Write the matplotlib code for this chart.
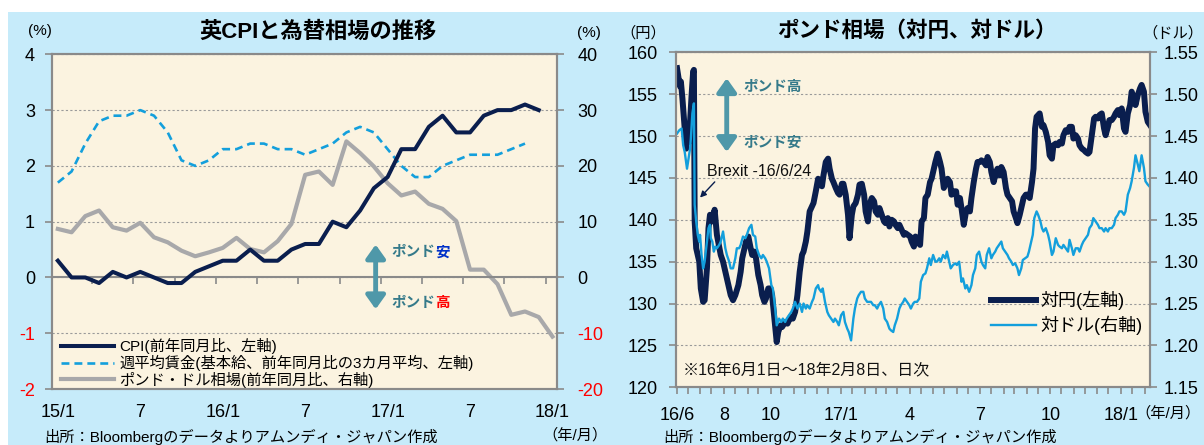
import numpy as np
import pandas as pd
import matplotlib
matplotlib.use("Agg")
import matplotlib.pyplot as plt
import matplotlib.dates as mdates
from matplotlib.patches import Rectangle

plt.rcParams['font.family'] = ['Liberation Sans', 'Noto Sans CJK JP']
plt.rcParams['axes.unicode_minus'] = False

BG = '#C6EBFA'
PLOT_BG = '#FBF3E0'
NAVY = '#0A1E4E'
SKY = '#139FDC'
GREY = '#A8A8AA'
TEAL = '#4F98A9'
TEAL_TXT = '#357A8A'
AXIS = '#8A8A8A'
GRID = '#9A9A9A'

# ---- left chart: monthly 15/1 .. 18/1 ----
cpi = [0.3, 0.0, 0.0, -0.1, 0.1, 0.0, 0.1, 0.0, -0.1, -0.1, 0.1, 0.2,
       0.3, 0.3, 0.5, 0.3, 0.3, 0.5, 0.6, 0.6, 1.0, 0.9, 1.2, 1.6,
       1.8, 2.3, 2.3, 2.7, 2.9, 2.6, 2.6, 2.9, 3.0, 3.0, 3.1, 3.0]
wage = [1.7, 1.9, 2.4, 2.8, 2.9, 2.9, 3.0, 2.9, 2.6, 2.1,
        2.0, 2.1, 2.3, 2.3, 2.4, 2.4, 2.3, 2.3, 2.2, 2.3,
        2.4, 2.6, 2.7, 2.6, 2.3, 2.0, 1.8, 1.8, 2.0, 2.1,
        2.2, 2.2, 2.2, 2.3, 2.4]
gbpusd_yoy = [8.7, 8.1, 11.0, 12.0, 9.0, 8.4, 9.8, 7.2, 6.3, 4.8,
              3.8, 4.5, 5.3, 7.1, 5.1, 4.5, 6.5, 9.6, 18.4, 19.0,
              16.6, 24.4, 22.3, 19.9, 16.9, 14.7, 15.4, 13.2, 12.3, 10.1,
              1.4, 1.4, -1.2, -6.7, -6.1, -7.1, -10.6]
month_labels = ['15/1', '7', '16/1', '7', '17/1', '7', '18/1']
left_yticks = [-2, -1, 0, 1, 2, 3, 4]
right_yticks = [-20, -10, 0, 10, 20, 30, 40]

# ---- right chart: daily, days since 2016-06-01 ----
START = pd.Timestamp('2016-06-01')
yen_days = [0, 2, 4, 5, 7, 9, 10, 12, 14, 16, 17, 19, 21, 22,
            23, 25, 29, 31, 34, 36, 39, 41, 43, 46,
            49, 50, 52, 55, 57, 60, 63, 67, 70, 73,
            76, 80, 83, 85, 88, 90, 93, 96, 98, 101,
            103, 106, 109, 111, 114, 116, 119, 122, 124, 127,
            130, 132, 135, 137, 141, 144, 148, 151, 154,
            157, 160, 163, 165, 168, 170, 173, 176, 178, 181,
            184, 186, 189, 191, 194, 197, 199, 202, 204, 207,
            210, 212, 215, 217, 220, 223, 225, 228, 230, 233,
            236, 238, 241, 244, 246, 249, 251, 254, 257, 259,
            262, 264, 267, 270, 272, 275, 277, 280, 283, 285,
            288, 290, 293, 296, 298, 301, 304, 306, 309,
            311, 314, 317, 319, 322, 324, 327, 330, 332, 335,
            337, 340, 343, 345, 348, 350, 353, 356, 358, 361,
            364, 366, 369, 371, 374, 377, 379, 382, 384, 387,
            390, 392, 395, 397, 400, 403, 405, 408, 410, 413,
            416, 418, 421, 423, 426, 429, 431, 434, 437, 439,
            442, 444, 447, 450, 452, 455, 457, 460, 463, 465,
            467, 469, 473, 476, 478, 481, 484, 486, 489, 491,
            494, 497, 499, 502, 504, 507, 510, 512, 515, 517,
            520, 523, 525, 528, 531, 533, 536, 538, 541, 544,
            546, 549, 551, 554, 557, 559, 562, 564, 567, 570,
            572, 575, 577, 580, 583, 585, 588, 591, 593, 596,
            598, 601, 604, 606, 609, 611, 614, 617]
yen = [158.1, 156.9, 155.9, 156.5, 154.5, 152.1, 150.9, 148.5, 151.1, 149.3, 151.7, 154.9, 157.7, 157.9,
       139.8, 136.6, 135.0, 131.8, 130.2, 130.4, 134.2, 139.0, 140.6, 139.8,
       141.2, 140.2, 138.2, 136.8, 135.8, 135.0, 133.8, 132.2, 131.0, 130.4,
       131.0, 132.2, 133.8, 135.4, 136.6, 137.4, 138.0, 136.6, 135.8, 136.2,
       135.4, 133.4, 132.2, 131.0, 130.2, 130.6, 131.8, 131.8, 131.0, 128.2,
       125.4, 126.6, 127.4, 127.2, 127.8, 127.6, 128.4, 128.2, 129.0,
       131.0, 133.8, 135.8, 136.2, 137.4, 138.6, 141.0, 141.6, 142.0, 143.4,
       144.9, 144.3, 144.0, 145.3, 146.9, 147.3, 146.1, 144.9, 144.5, 143.8,
       143.2, 143.0, 144.3, 144.3, 143.0, 140.6, 137.8, 140.6, 141.6, 142.0,
       143.0, 144.2, 144.3, 143.0, 141.0, 139.8, 141.8, 142.6, 142.2, 141.0,
       140.6, 141.4, 140.6, 139.8, 139.6, 140.2, 139.2, 140.0, 139.8, 139.4,
       139.0, 139.4, 138.8, 138.2, 138.4, 138.2, 138.0, 137.4, 136.8,
       138.0, 137.4, 137.0, 139.8, 140.2, 142.6, 143.0, 144.5, 144.9, 146.1,
       146.9, 147.9, 146.9, 146.1, 143.8, 144.2, 144.9, 144.5, 143.0, 143.4,
       143.4, 141.8, 142.6, 141.4, 139.4, 141.0, 141.4, 141.0, 142.6, 144.5,
       146.1, 146.9, 146.9, 147.1, 146.9, 146.5, 147.5, 146.9, 145.7, 144.5,
       145.7, 146.1, 145.3, 146.3, 145.7, 143.8, 143.0, 142.6, 142.2, 141.0,
       140.2, 139.6, 140.6, 141.8, 142.6, 143.0, 143.0, 142.6, 144.5, 146.1,
       150.9, 152.3, 152.7, 151.1, 151.3, 150.5, 149.3, 147.7, 147.3, 148.9,
       149.1, 148.9, 149.3, 149.1, 150.1, 150.7, 150.5, 151.1, 151.1, 149.7,
       150.1, 149.7, 148.9, 148.5, 148.3, 148.1, 147.9, 148.1, 150.1, 152.1,
       152.3, 152.1, 152.5, 152.7, 150.9, 150.1, 151.1, 151.9, 151.9, 152.3,
       152.7, 153.1, 152.5, 153.3, 150.9, 150.5, 152.7, 153.7, 155.3, 154.5,
       153.7, 154.9, 155.7, 156.1, 155.3, 152.9, 151.7, 151.3]

usd_days = [0, 3, 6, 8, 10, 13, 15, 17, 18, 20,
            22, 23, 25, 27, 29, 30, 32, 34, 36, 37,
            39, 41, 43, 44, 46, 48, 50, 52, 55, 57,
            60, 63, 65, 68, 70, 73, 76, 78, 81, 83,
            86, 89, 91, 94, 97, 99, 102, 104, 107, 110,
            112, 115, 117, 120, 123, 125, 128, 130, 133, 136,
            138, 141, 143, 146, 149, 151, 154,
            157, 160, 163, 165, 168, 170, 173, 176, 178, 181,
            184, 185, 188, 190, 193, 196, 198, 201, 204, 206,
            209, 211, 214, 217, 219, 222, 224, 227, 230, 232,
            235, 237, 240, 243, 245, 248, 250, 253, 256, 258,
            261, 263, 266, 269, 271, 274, 277, 279, 282, 284,
            287, 290, 292, 295, 297, 300, 303, 305, 308, 310,
            313, 316, 318, 321, 324, 326, 329, 331, 334, 337,
            339, 342, 344, 347, 350, 352, 355, 357, 360, 363,
            365, 368, 371, 373, 376, 378, 381, 384, 386, 389,
            391, 394, 397, 399, 402, 404, 407, 410, 412, 415,
            417, 420, 423, 425, 428, 431, 433, 436, 438, 441,
            444, 446, 449, 451, 454, 457, 459, 462, 464, 466,
            469, 471, 474, 476, 478, 481, 484, 486, 489, 491,
            494, 497, 499, 502, 504, 507, 510, 512, 515, 517,
            520, 523, 525, 528, 530, 533, 536, 538, 541, 543,
            546, 549, 551, 554, 557, 559, 562, 564, 567, 570,
            572, 575, 577, 580, 583, 585, 588, 591, 593, 596,
            598, 601, 603, 606, 609, 611, 614, 617]
usd = [1.453, 1.457, 1.459, 1.439, 1.431, 1.411, 1.423, 1.435, 1.447, 1.477,
       1.489, 1.368, 1.348, 1.332, 1.324, 1.332, 1.308, 1.292, 1.300, 1.308,
       1.324, 1.340, 1.344, 1.328, 1.324, 1.312, 1.318, 1.316, 1.320, 1.324,
       1.336, 1.316, 1.308, 1.300, 1.292, 1.292, 1.304, 1.316, 1.316, 1.320,
       1.330, 1.328, 1.332, 1.340, 1.344, 1.332, 1.330, 1.316, 1.308, 1.304,
       1.308, 1.304, 1.300, 1.292, 1.272, 1.268, 1.244, 1.224, 1.232, 1.228,
       1.232, 1.228, 1.232, 1.236, 1.240, 1.244, 1.252,
       1.244, 1.250, 1.240, 1.250, 1.244, 1.248, 1.244, 1.252, 1.256, 1.268,
       1.272, 1.268, 1.264, 1.268, 1.252, 1.240, 1.236, 1.232, 1.228, 1.232,
       1.228, 1.224, 1.236, 1.240, 1.228, 1.220, 1.216, 1.206, 1.232, 1.244,
       1.256, 1.260, 1.264, 1.264, 1.256, 1.252, 1.252, 1.252, 1.248, 1.248,
       1.244, 1.248, 1.252, 1.244, 1.232, 1.228, 1.220, 1.218, 1.216, 1.224,
       1.232, 1.244, 1.248, 1.252, 1.256, 1.252, 1.248, 1.244, 1.250, 1.252,
       1.252, 1.256, 1.276, 1.284, 1.286, 1.292, 1.304, 1.296, 1.308, 1.300,
       1.300, 1.304, 1.300, 1.308, 1.304, 1.312, 1.300, 1.292, 1.296, 1.298,
       1.296, 1.300, 1.276, 1.280, 1.268, 1.272, 1.264, 1.272, 1.284, 1.292,
       1.308, 1.312, 1.300, 1.296, 1.292, 1.308, 1.316, 1.304, 1.308, 1.312,
       1.316, 1.320, 1.324, 1.316, 1.312, 1.308, 1.304, 1.300, 1.296, 1.298,
       1.292, 1.284, 1.292, 1.302, 1.304, 1.306, 1.312, 1.324, 1.332, 1.352,
       1.360, 1.356, 1.348, 1.340, 1.336, 1.340, 1.332, 1.324, 1.308, 1.312,
       1.328, 1.320, 1.318, 1.316, 1.320, 1.316, 1.312, 1.326, 1.316, 1.308,
       1.316, 1.316, 1.312, 1.320, 1.324, 1.328, 1.332, 1.340, 1.344, 1.352,
       1.348, 1.344, 1.340, 1.340, 1.336, 1.340, 1.336, 1.340, 1.340, 1.344,
       1.352, 1.356, 1.360, 1.360, 1.356, 1.360, 1.380, 1.388, 1.396, 1.412,
       1.427, 1.416, 1.408, 1.427, 1.412, 1.396, 1.392, 1.389]

date_labels = {'2016-06': '16/6', '2016-08': '8', '2016-10': '10', '2017-01': '17/1',
               '2017-04': '4', '2017-07': '7', '2017-10': '10', '2018-01': '18/1'}
yen_ticks = [120, 125, 130, 135, 140, 145, 150, 155, 160]
usd_ticks = [1.15, 1.20, 1.25, 1.30, 1.35, 1.40, 1.45, 1.50, 1.55]


def style_spines(ax):
    for s in ax.spines.values():
        s.set_color(AXIS)
        s.set_linewidth(1.5)


def day(d):
    return mdates.date2num(START + pd.Timedelta(days=d))


fig = plt.figure(figsize=(12.04, 4.45), dpi=100)
fig.patch.set_facecolor('white')
fig.add_artist(Rectangle((8 / 1204, 0), 1, 433 / 445, transform=fig.transFigure,
                         facecolor=BG, edgecolor='none', zorder=-10))

# ================= left chart =================
axL = fig.add_axes([0.0429, 0.1258, 0.4194, 0.7521])
axL2 = axL.twinx()
axL.set_zorder(axL2.get_zorder() + 1)
axL.patch.set_visible(False)
axL2.patch.set_visible(True)
axL2.patch.set_facecolor(PLOT_BG)

x = np.arange(len(gbpusd_yoy))
h_gbp, = axL2.plot(x, gbpusd_yoy, color=GREY, lw=3.0)
h_wage, = axL.plot(x[:len(wage)], wage, color=SKY, lw=1.9, ls=(0, (3.0, 1.9)))
h_cpi, = axL.plot(x[:len(cpi)], cpi, color=NAVY, lw=2.9)

axL.set_xlim(-0.45, 36.3)
axL.set_ylim(-2, 4)
axL2.set_ylim(-20, 40)
axL.set_xticks(range(0, len(gbpusd_yoy), 6), month_labels)
axL.tick_params(axis='x', length=0, labelsize=13, pad=11)
axL.set_yticks(left_yticks, [str(v) for v in left_yticks])
axL.tick_params(axis='y', direction='out', length=5, width=1.2, color=AXIS,
                labelsize=13, pad=7)
axL2.set_yticks(right_yticks, [str(v) for v in right_yticks])
axL2.tick_params(axis='y', direction='out', length=5, width=1.2, color=AXIS,
                 labelsize=13, pad=10)
for lbl, v in zip(axL.get_yticklabels(), left_yticks):
    if v < 0:
        lbl.set_color('#FF0000')
for lbl, v in zip(axL2.get_yticklabels(), right_yticks):
    if v < 0:
        lbl.set_color('#FF0000')
axL2.yaxis.grid(True, ls=(0, (2, 2)), color=GRID, lw=0.8)
style_spines(axL)
style_spines(axL2)

# zero line with quarter ticks
zero = axL.secondary_xaxis(2 / 6)
zero.set_xticks(np.arange(2.5, 36, 3))
zero.set_xticklabels([])
zero.tick_params(direction='out', length=5, width=1.2, color=AXIS)
for s in zero.spines.values():
    s.set_color(AXIS)
    s.set_linewidth(1.5)

axL.legend([h_cpi, h_wage, h_gbp],
           ['CPI(前年同月比、左軸)', '週平均賃金(基本給、前年同月比の3カ月平均、左軸)',
            'ポンド・ドル相場(前年同月比、右軸)'],
           loc='lower left', bbox_to_anchor=(0.018, 0.004), frameon=False,
           fontsize=11, handlelength=3.5, handletextpad=0.35, labelspacing=0.05,
           borderpad=0, borderaxespad=0)

axL.annotate('', xy=(23.13, 0.59), xytext=(23.13, -0.57),
             arrowprops=dict(arrowstyle='<|-|>,head_length=0.45,head_width=0.32',
                             color=TEAL, lw=3.5, mutation_scale=18,
                             shrinkA=0, shrinkB=0))
t1 = axL.text(24.27, 0.45, 'ポンド', color=TEAL_TXT, fontsize=10.5,
              fontweight='bold', va='center', ha='left')
axL.annotate('安', xy=(1, 0.5), xycoords=t1, va='center', ha='left',
             color='#0030C8', fontsize=10.5, fontweight='bold')
t2 = axL.text(24.27, -0.45, 'ポンド', color=TEAL_TXT, fontsize=10.5,
              fontweight='bold', va='center', ha='left')
axL.annotate('高', xy=(1, 0.5), xycoords=t2, va='center', ha='left',
             color='#FF0000', fontsize=10.5, fontweight='bold')

# ================= right chart =================
axR = fig.add_axes([0.5615, 0.1297, 0.3937, 0.7528])
axR2 = axR.twinx()
axR.set_facecolor(PLOT_BG)

yen_dates = START + pd.to_timedelta(yen_days, unit='D')
usd_dates = START + pd.to_timedelta(usd_days, unit='D')
h_yen, = axR.plot(yen_dates, yen, color=NAVY, lw=4.3)
h_usd, = axR2.plot(usd_dates, usd, color=SKY, lw=1.7)

axR.set_xlim(day(-1.3), day(617))
axR.set_ylim(120, 160)
axR2.set_ylim(1.15, 1.55)
tick_dates = pd.date_range('2016-06-01', '2018-02-01', freq='SMS')
tick_labels = [date_labels.get(d.strftime('%Y-%m'), '') if d.day == 1 else ''
               for d in tick_dates]
axR.set_xticks(mdates.date2num(tick_dates.to_pydatetime()), tick_labels)
axR.tick_params(axis='x', direction='out', length=5, width=1.2, color=AXIS,
                labelsize=13, pad=9)
axR.set_yticks(yen_ticks, [str(v) for v in yen_ticks])
axR.tick_params(axis='y', direction='out', length=5, width=1.2, color=AXIS,
                labelsize=13, pad=8)
axR2.set_yticks(usd_ticks, [f'{v:.2f}' for v in usd_ticks])
axR2.tick_params(axis='y', direction='out', length=5, width=1.2, color=AXIS,
                 labelsize=13, pad=5)
axR.yaxis.grid(True, ls=(0, (2, 2)), color=GRID, lw=0.8)
style_spines(axR)
style_spines(axR2)

axR2.legend([h_yen, h_usd], ['対円(左軸)', '対ドル(右軸)'],
            loc='center left', bbox_to_anchor=(0.665, 0.222), frameon=False,
            fontsize=13, handlelength=2.5, handletextpad=0.2, labelspacing=0.3,
            borderpad=0, borderaxespad=0)

axR.annotate('', xy=(day(64.8), 156.9), xytext=(day(64.8), 148.1),
             arrowprops=dict(arrowstyle='<|-|>,head_length=0.45,head_width=0.32',
                             color=TEAL, lw=3.5, mutation_scale=18,
                             shrinkA=0, shrinkB=0))
axR.text(day(86), 155.9, 'ポンド高', color=TEAL_TXT, fontsize=10.5,
         fontweight='bold', va='center', ha='left')
axR.text(day(86), 149.25, 'ポンド安', color=TEAL_TXT, fontsize=10.5,
         fontweight='bold', va='center', ha='left')
axR.annotate('Brexit -16/6/24', xy=(day(30), 142.65), xytext=(day(39), 145.75),
             fontsize=11.5, va='center', ha='left', color='#111111',
             arrowprops=dict(arrowstyle='-|>', color=NAVY, lw=1.0,
                             mutation_scale=9, shrinkA=0, shrinkB=0,
                             relpos=(0.1, 0.0)))
axR.text(0.0148, 0.052, '※16年6月1日～18年2月8日、日次', transform=axR.transAxes,
         fontsize=11.5, va='center', ha='left', color='#111111')

# ================= titles and notes =================
fig.text(0.2645, 0.9288, '英CPIと為替相場の推移', fontsize=16, fontweight='bold',
         ha='center', va='center')
fig.text(0.7616, 0.9288, 'ポンド相場（対円、対ドル）', fontsize=15.5, fontweight='bold',
         ha='center', va='center')
fig.text(0.0332, 0.930, '(%)', fontsize=11, ha='center', va='center')
fig.text(0.489, 0.925, '(%)', fontsize=11, ha='center', va='center')
fig.text(0.534, 0.925, '（円）', fontsize=11, ha='center', va='center')
fig.text(0.9995, 0.925, '（ドル）', fontsize=11, ha='right', va='center')
fig.text(0.0365, 0.0187, '出所：Bloombergのデータよりアムンディ・ジャパン作成',
         fontsize=11, ha='left', va='center')
fig.text(0.5512, 0.0187, '出所：Bloombergのデータよりアムンディ・ジャパン作成',
         fontsize=11, ha='left', va='center')
fig.text(0.4776, 0.0225, '（年/月）', fontsize=11, ha='center', va='center')
fig.text(0.970, 0.072, '（年/月）', fontsize=11, ha='center', va='center')

fig.savefig('out.png', dpi=100)
